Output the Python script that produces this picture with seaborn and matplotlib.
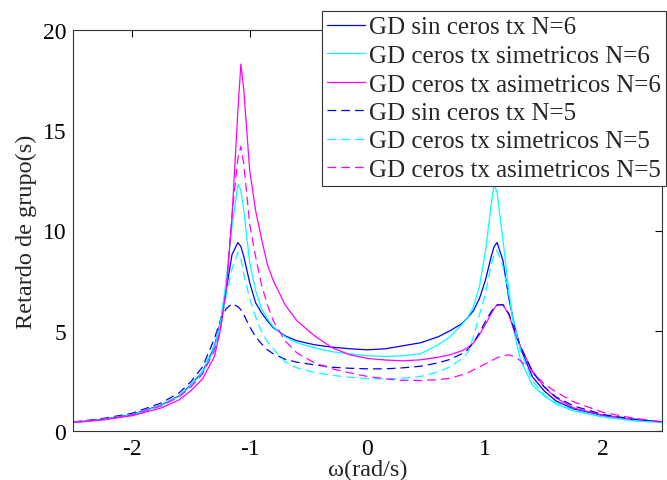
import numpy as np
import pandas as pd
import matplotlib
matplotlib.use("Agg")
import matplotlib.pyplot as plt
import seaborn as sns

# ---------------- data ----------------
w = [-2.5, -2.25, -2.0, -1.75, -1.6, -1.5, -1.4, -1.3, -1.25, -1.2, -1.15, -1.1,
     -1.075, -1.05, -1.0, -0.95, -0.9, -0.85, -0.8, -0.7, -0.6, -0.45, -0.3, -0.15,
     0.0, 0.15, 0.3, 0.45, 0.6, 0.7, 0.8, 0.85, 0.9, 0.95, 1.0, 1.05, 1.075, 1.1,
     1.15, 1.2, 1.25, 1.3, 1.4, 1.5, 1.6, 1.75, 2.0, 2.25, 2.5]

gd_sin_n6 = [0.43, 0.58, 0.82, 1.3, 1.75, 2.3, 2.95, 4.2, 5.4, 7.0, 8.8, 9.4,
             9.2, 8.7, 7.4, 6.4, 5.9, 5.5, 5.15, 4.75, 4.5, 4.3, 4.18, 4.1,
             4.05, 4.1, 4.25, 4.4, 4.7, 5.0, 5.35, 5.65, 6.0, 6.6, 7.5, 8.7, 9.2, 9.4,
             8.5, 6.6, 5.2, 4.1, 2.7, 2.0, 1.5, 1.1, 0.77, 0.57, 0.45]

gd_sim_n6 = [0.42, 0.57, 0.8, 1.27, 1.72, 2.25, 2.9, 4.1, 5.3, 7.5, 10.2, 12.3,
             12.0, 11.0, 8.4, 7.0, 6.1, 5.6, 5.2, 4.7, 4.4, 4.15, 3.95, 3.85,
             3.75, 3.72, 3.75, 3.85, 4.3, 4.7, 5.3, 5.65, 6.2, 7.2, 8.9, 11.3, 12.3, 11.9,
             9.5, 7.0, 4.8, 3.5, 2.3, 1.75, 1.35, 1.0, 0.7, 0.52, 0.42]

gd_asim_n6 = [0.42, 0.55, 0.76, 1.15, 1.55, 2.0, 2.6, 3.7, 5.0, 7.0, 10.7, 16.0,
              18.3, 17.0, 13.0, 11.0, 9.6, 8.3, 7.5, 6.3, 5.5, 4.75, 4.15, 3.8,
              3.62, 3.54, 3.5, 3.55, 3.68, 3.8, 4.0, 4.15, 4.4, 4.8, 5.3, 5.85, 6.1, 6.3,
              6.3, 5.8, 4.9, 4.2, 3.0, 2.2, 1.65, 1.15, 0.78, 0.58, 0.45]

gd_sin_n5 = [0.45, 0.62, 0.88, 1.4, 1.9, 2.45, 3.2, 4.6, 5.5, 6.1, 6.35, 6.2,
             6.05, 5.8, 5.2, 4.7, 4.35, 4.05, 3.85, 3.58, 3.43, 3.3, 3.18, 3.13,
             3.1, 3.1, 3.15, 3.23, 3.4, 3.57, 3.85, 4.05, 4.4, 4.9, 5.45, 5.95, 6.15, 6.28,
             6.3, 5.85, 5.0, 4.2, 2.95, 2.2, 1.7, 1.25, 0.82, 0.6, 0.45]

gd_sim_n5 = [0.43, 0.58, 0.82, 1.3, 1.75, 2.3, 3.0, 4.3, 5.4, 6.7, 8.1, 8.9,
             8.6, 7.8, 6.6, 5.7, 4.95, 4.45, 4.1, 3.45, 3.15, 2.92, 2.78, 2.68,
             2.62, 2.6, 2.63, 2.72, 2.95, 3.2, 3.6, 3.9, 4.7, 5.8, 6.8, 8.3, 8.8, 9.0,
             8.2, 6.8, 5.2, 4.0, 2.5, 1.8, 1.4, 1.05, 0.7, 0.52, 0.42]

gd_asim_n5 = [0.43, 0.57, 0.8, 1.25, 1.7, 2.2, 2.85, 4.0, 5.0, 7.0, 10.8, 13.6,
              14.2, 13.3, 10.3, 8.7, 7.3, 6.3, 5.5, 4.5, 3.9, 3.4, 3.1, 2.9,
              2.72, 2.6, 2.53, 2.52, 2.56, 2.63, 2.8, 2.9, 3.05, 3.2, 3.35, 3.5, 3.57, 3.65,
              3.75, 3.8, 3.7, 3.5, 2.93, 2.35, 1.95, 1.45, 0.93, 0.65, 0.46]

labels = ["GD sin ceros tx N=6", "GD ceros tx simetricos N=6",
          "GD ceros tx asimetricos N=6", "GD sin ceros tx N=5",
          "GD ceros tx simetricos N=5", "GD ceros tx asimetricos N=5"]
series = [gd_sin_n6, gd_sim_n6, gd_asim_n6, gd_sin_n5, gd_sim_n5, gd_asim_n5]
colors = ["#0000ff", "#00ffff", "#ff00ff", "#0000ff", "#00ffff", "#ff00ff"]
dashed = [False, False, False, True, True, True]

x_ticks = [-2, -1, 0, 1, 2]
y_ticks = [0, 5, 10, 15, 20]

# ---------------- style ----------------
sns.set_style("white")
plt.rcParams["font.family"] = ["Liberation Serif", "DejaVu Serif"]
plt.rcParams["axes.unicode_minus"] = False

fig = plt.figure(figsize=(6.67, 4.81), dpi=100)
ax = fig.add_axes([73 / 667, 1 - 432 / 481, (662 - 73) / 667, (432 - 31) / 481])

for lab, ys, col, dsh in zip(labels, series, colors, dashed):
    df = pd.DataFrame({"w": w, "gd": ys})
    sns.lineplot(data=df, x="w", y="gd", ax=ax, color=col, lw=0.9,
                 label=lab, sort=False,
                 linestyle=(0, (7, 4)) if dsh else "-")

ax.set_xlim(-2.5, 2.5)
ax.set_ylim(0, 20)
ax.set_xticks(x_ticks)
ax.set_yticks(y_ticks)
ax.set_xticklabels([str(t) for t in x_ticks])
ax.set_yticklabels([str(t) for t in y_ticks])
ax.tick_params(direction="in", length=5, width=0.8, labelsize=17,
               top=True, right=True, colors="black", pad=5)
for sp in ax.spines.values():
    sp.set_visible(True)
    sp.set_color("#333333")
    sp.set_linewidth(0.8)

ax.set_xlabel("ω(rad/s)", fontsize=17.5, labelpad=0)
ax.set_ylabel("Retardo de grupo(s)", fontsize=17.5, labelpad=4)

leg = ax.legend(loc="upper right", bbox_to_anchor=(666 / 667, 1 - 12 / 481),
                bbox_transform=fig.transFigure, fontsize=18, frameon=True,
                fancybox=False, edgecolor="#333333", framealpha=1,
                handlelength=1.55, handletextpad=0.15, borderpad=0.2,
                labelspacing=0.24, borderaxespad=0)
leg.get_frame().set_linewidth(0.8)

fig.savefig("out.png", dpi=100)
